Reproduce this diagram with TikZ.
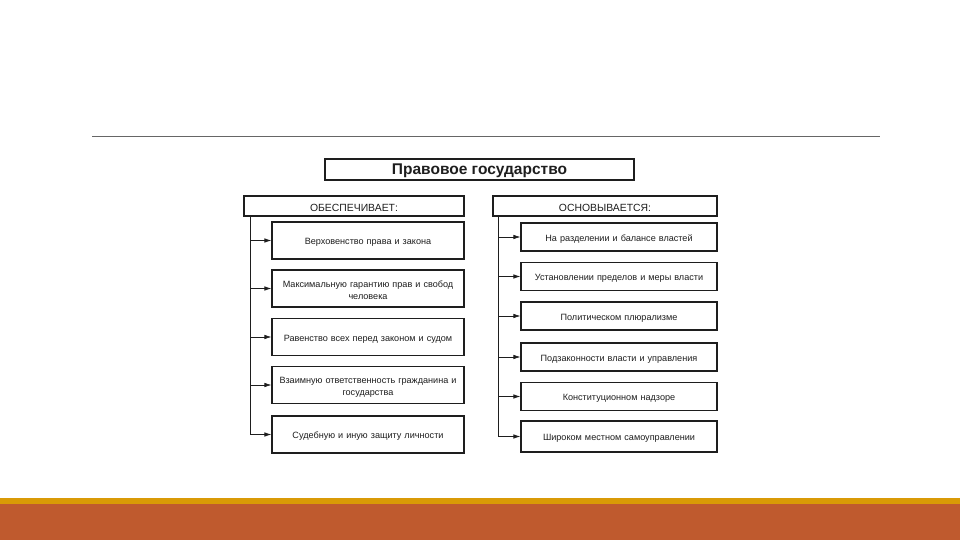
\documentclass[tikz,border=0pt]{standalone}
\usepackage{fontspec}
\setmainfont{Liberation Sans}
\usetikzlibrary{arrows.meta}
\definecolor{rust}{HTML}{BF5A2E}
\definecolor{gold}{HTML}{D99A06}
\definecolor{ink}{HTML}{1E1E1E}
\tikzset{
  box/.style={draw=ink, line width=1.1pt, inner sep=1pt, align=center, text=ink, font=\fontsize{9.1}{12}\selectfont,
    execute at begin node={\rule{0pt}{10.3pt}}},
  hdr/.style={box, font=\fontsize{10.4}{12}\selectfont},
  conn/.style={draw=ink, line width=0.7pt},
  arr/.style={conn, -{Latex[length=7pt,width=4.5pt]}}
}
\begin{document}
\begin{tikzpicture}[x=1pt,y=-1pt]
\useasboundingbox (0,0) rectangle (960,540);
\fill[white] (0,0) rectangle (960,540);
% slide decorations
\draw[gray!80!black, line width=0.8pt] (92,136) -- (880,136);
\fill[gold] (0,498) rectangle (960,504);
\fill[rust] (0,504) rectangle (960,540);
% title
\node[box, line width=1.3pt, minimum width=309pt, minimum height=21pt, font=\bfseries\fontsize{15.5}{17}\selectfont,
  execute at begin node={\rule{0pt}{14pt}}] (title) at (479.5,169.5) {Правовое государство};
% headers
\node[hdr, minimum width=220pt, minimum height=20pt] (lh) at (354,206) {ОБЕСПЕЧИВАЕТ:};
\node[hdr, minimum width=224pt, minimum height=20pt] (rh) at (605,206) {ОСНОВЫВАЕТСЯ:};
% left boxes
\tikzset{lb/.style={box, minimum width=192pt, minimum height=37pt, text width=188pt}}
\node[lb] (l1) at (368,240.5) {Верховенство права и закона};
\node[lb] (l2) at (368,288.5) {Максимальную гарантию прав и свобод\\человека};
\node[lb] (l3) at (368,337) {Равенство всех перед законом и судом};
\node[lb] (l4) at (368,385) {Взаимную ответственность гражданина и\\государства};
\node[lb] (l5) at (368,434.5) {Судебную и иную защиту личности};
% right boxes
\tikzset{rb/.style={box, minimum width=196pt, minimum height=28pt, text width=192pt}}
\node[rb] (r1) at (619,237) {На разделении и балансе властей};
\node[rb] (r2) at (619,276.5) {Установлении пределов и меры власти};
\node[rb] (r3) at (619,316) {Политическом плюрализме};
\node[rb] (r4) at (619,357) {Подзаконности власти и управления};
\node[rb] (r5) at (619,396.5) {Конституционном надзоре};
\node[rb, minimum height=31pt] (r6) at (619,436.5) {Широком местном самоуправлении};
% trunks
\coordinate (lt) at (250,216);
\coordinate (rt) at (498,216);
\draw[conn] (lt) -- (lt |- l5.west);
\draw[conn] (rt) -- (rt |- r6.west);
\foreach \i in {1,...,5} \draw[arr] (lt |- l\i.west) -- (l\i.west);
\foreach \i in {1,...,6} \draw[arr] (rt |- r\i.west) -- (r\i.west);
\end{tikzpicture}
\end{document}
